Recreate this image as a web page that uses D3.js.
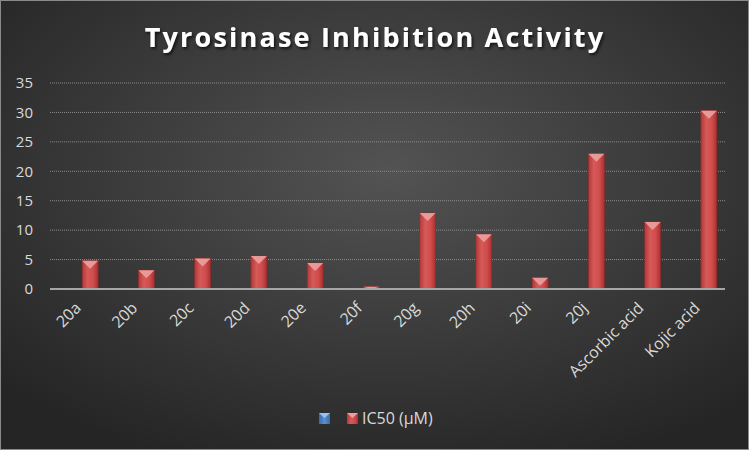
<!DOCTYPE html>
<html>
<head>
<meta charset="utf-8">
<script src="https://cdn.jsdelivr.net/npm/d3@7"></script>
<style>
  html, body { margin: 0; padding: 0; background: #2a2a2a; }
  svg { display: block; font-family: 'Open Sans', sans-serif; }
</style>
</head>
<body>
<div id="chart"></div>
<script>
const categories = ['20a', '20b', '20c', '20d', '20e', '20f', '20g', '20h', '20i', '20j', 'Ascorbic acid', 'Kojic acid'];
const ic50 = [4.8, 3.2, 5.2, 5.6, 4.4, 0.4, 12.9, 9.3, 1.9, 23.0, 11.4, 30.3];
const seriesNames = ['', 'IC50 (µM)'];
const yTicks = [0, 5, 10, 15, 20, 25, 30, 35];

const W = 749, H = 450;
const margin = { top: 83, right: 24, bottom: 161, left: 50 };

const svg = d3.select('#chart').append('svg')
  .attr('width', W)
  .attr('height', H);

const defs = svg.append('defs');

const bg = defs.append('radialGradient')
  .attr('id', 'bg')
  .attr('cx', '52%').attr('cy', '38%').attr('r', '70%');
bg.append('stop').attr('offset', '0%').attr('stop-color', '#535353');
bg.append('stop').attr('offset', '100%').attr('stop-color', '#252525');

const barGrad = defs.append('linearGradient')
  .attr('id', 'barGrad')
  .attr('x1', '0%').attr('x2', '100%');
barGrad.append('stop').attr('offset', '0%').attr('stop-color', '#b23838');
barGrad.append('stop').attr('offset', '35%').attr('stop-color', '#d65a58');
barGrad.append('stop').attr('offset', '70%').attr('stop-color', '#cf4c4b');
barGrad.append('stop').attr('offset', '100%').attr('stop-color', '#a83030');

const blueGrad = defs.append('linearGradient')
  .attr('id', 'blueGrad')
  .attr('x1', '0%').attr('x2', '100%');
blueGrad.append('stop').attr('offset', '0%').attr('stop-color', '#3a6aa8');
blueGrad.append('stop').attr('offset', '50%').attr('stop-color', '#5b8fd0');
blueGrad.append('stop').attr('offset', '100%').attr('stop-color', '#3a6aa8');

const shadow = defs.append('filter').attr('id', 'shadow')
  .attr('x', '-10%').attr('y', '-20%').attr('width', '130%').attr('height', '160%');
shadow.append('feDropShadow')
  .attr('dx', 1.5).attr('dy', 2).attr('stdDeviation', 1.5)
  .attr('flood-color', '#000').attr('flood-opacity', 0.7);

svg.append('rect')
  .attr('x', 0.5).attr('y', 0.5)
  .attr('width', W - 1).attr('height', H - 1)
  .attr('fill', 'url(#bg)')
  .attr('stroke', '#8a8a8a');

svg.append('text')
  .attr('x', 375).attr('y', 47)
  .attr('text-anchor', 'middle')
  .attr('fill', '#ffffff')
  .attr('font-size', 27)
  .attr('font-weight', 700)
  .attr('letter-spacing', 2.2)
  .attr('filter', 'url(#shadow)')
  .text('Tyrosinase Inhibition Activity');

const x0 = d3.scaleBand()
  .domain(categories)
  .range([margin.left, W - margin.right]);

const x1 = d3.scaleBand()
  .domain(seriesNames)
  .range([-20, 20])
  .paddingInner(1 / 3);

const y = d3.scaleLinear()
  .domain([0, 35])
  .range([H - margin.bottom, margin.top]);

// grid
svg.append('g')
  .selectAll('line')
  .data(yTicks.filter(d => d > 0))
  .join('line')
  .attr('x1', margin.left).attr('x2', W - margin.right)
  .attr('y1', d => y(d)).attr('y2', d => y(d))
  .attr('stroke', '#8c8c8c')
  .attr('stroke-width', 1)
  .attr('stroke-dasharray', '1,1');

const yAxis = svg.append('g')
  .attr('transform', `translate(${margin.left},0)`)
  .call(d3.axisLeft(y).tickValues(yTicks).tickSize(0).tickPadding(17));
yAxis.select('.domain').remove();
yAxis.selectAll('text')
  .attr('fill', '#d9d9d9')
  .attr('font-size', 15)
  .attr('font-family', "'Open Sans', sans-serif");

// bars
const bw = x1.bandwidth();
const bar = svg.append('g')
  .selectAll('g')
  .data(categories.map((c, i) => ({ cat: c, v: ic50[i] })))
  .join('g')
  .attr('transform', d => `translate(${x0(d.cat) + x0.bandwidth() / 2 + x1(seriesNames[1])},0)`);

bar.append('rect')
  .attr('x', 0)
  .attr('y', d => y(d.v))
  .attr('width', bw)
  .attr('height', d => y(0) - y(d.v))
  .attr('fill', 'url(#barGrad)')
  .attr('stroke', '#8e2a2a')
  .attr('stroke-width', 0.6);

bar.append('path')
  .attr('d', d => {
    const t = y(d.v);
    const h = Math.min(bw / 2, y(0) - t);
    return `M0,${t}L${bw},${t}L${bw / 2},${t + h}Z`;
  })
  .attr('fill', '#eaa2a0')
  .attr('opacity', 0.9);

// x axis line
svg.append('line')
  .attr('x1', margin.left).attr('x2', W - margin.right)
  .attr('y1', y(0)).attr('y2', y(0))
  .attr('stroke', '#a6a6a6')
  .attr('stroke-width', 2);

const xAxis = svg.append('g')
  .attr('transform', `translate(0,${y(0)})`)
  .call(d3.axisBottom(x0).tickSize(0).tickPadding(0));
xAxis.select('.domain').remove();
xAxis.selectAll('text')
  .attr('fill', '#d9d9d9')
  .attr('font-size', 16)
  .attr('font-family', "'Open Sans', sans-serif")
  .attr('text-anchor', 'end')
  .attr('y', 0)
  .attr('dy', 0)
  .attr('transform', 'translate(4,20) rotate(-45)');

// legend
const legend = svg.append('g').attr('transform', 'translate(319,413)');
const lx = d3.scalePoint().domain(seriesNames).range([0, 28]);
legend.selectAll('g')
  .data(seriesNames)
  .join('g')
  .attr('transform', d => `translate(${lx(d)},0)`)
  .each(function (d, i) {
    const g = d3.select(this);
    g.append('rect')
      .attr('width', 11).attr('height', 11)
      .attr('fill', i === 0 ? 'url(#blueGrad)' : 'url(#barGrad)');
    g.append('path')
      .attr('d', 'M0,0L11,0L5.5,5Z')
      .attr('fill', i === 0 ? '#9dc0ec' : '#eaa2a0');
    g.append('text')
      .attr('x', 15).attr('y', 11)
      .attr('fill', '#d9d9d9')
      .attr('font-size', 16)
      .text(d);
  });
</script>
</body>
</html>
